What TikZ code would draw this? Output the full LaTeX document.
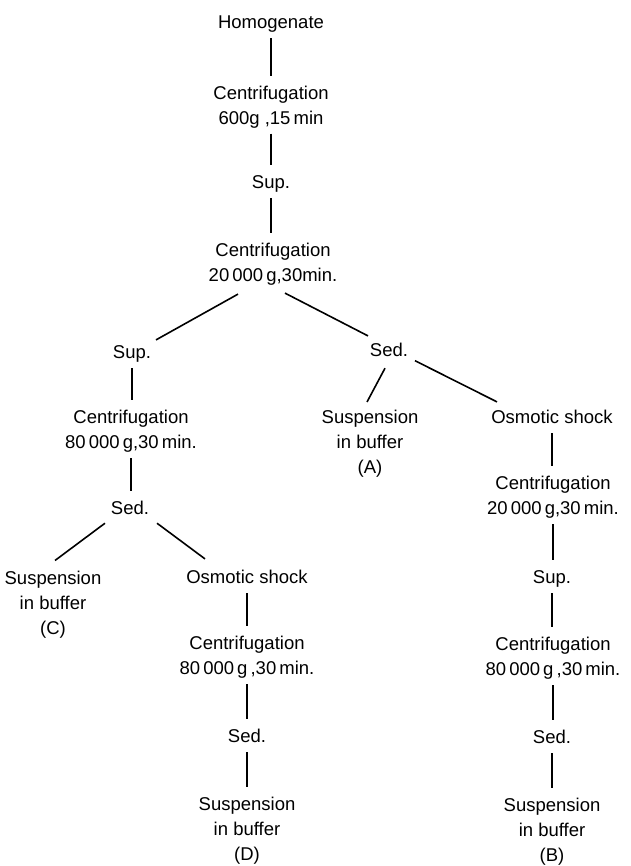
\documentclass[tikz,border=0pt]{standalone}
\usepackage{fontspec}
\setmainfont{Liberation Sans}
\usetikzlibrary{calc}
\begin{document}
\begin{tikzpicture}[x=1pt,y=-1pt,
  lbl/.style={inner sep=0pt, align=center, font=\fontsize{18.5}{25}\selectfont, yshift=-1.8pt},
  one/.style={lbl, text height=13.5pt, text depth=3.9pt},
  vl/.style={line width=1.6pt, shorten <=5.5pt, shorten >=9.5pt},
  dl/.style={line width=1.6pt}]
\useasboundingbox (0,0) rectangle (630,866);
% top column
\node[one] (hom) at (271,22) {Homogenate};
\node[lbl] (c1) at (271,105) {Centrifugation\\600g ,15\,min};
\node[one] (sup1) at (271,182) {Sup.};
\node[lbl] (c2) at (273,262.5) {Centrifugation\\20\,000\,g,30min.};
% left branch
\node[one] (supL) at (132,352) {Sup.};
\node[lbl] (c3) at (131,429.5) {Centrifugation\\80\,000\,g,30\,min.};
\node[one] (sedL) at (130,508) {Sed.};
\node[lbl] (susC) at (53,602.5) {Suspension\\in buffer\\(C)};
\node[one] (osmL) at (247,577) {Osmotic shock};
\node[lbl] (c4) at (247,655.5) {Centrifugation\\80\,000\,g\,,30\,min.};
\node[one] (sedD) at (247,736) {Sed.};
\node[lbl] (susD) at (247,829) {Suspension\\in buffer\\(D)};
% right branch
\node[one] (sedR) at (389,350) {Sed.};
\node[lbl] (susA) at (370,442) {Suspension\\in buffer\\(A)};
\node[one] (osmR) at (552,417) {Osmotic shock};
\node[lbl] (c5) at (553,495.5) {Centrifugation\\20\,000\,g,30\,min.};
\node[one] (supR) at (552,577) {Sup.};
\node[lbl] (c6) at (553,656.5) {Centrifugation\\80\,000\,g\,,30\,min.};
\node[one] (sedB) at (552,737) {Sed.};
\node[lbl] (susB) at (552,830) {Suspension\\in buffer\\(B)};
% vertical connectors
\draw[vl] (hom.south) -- (hom.south |- c1.north);
\draw[vl] (c1.south) -- (c1.south |- sup1.north);
\draw[vl] (sup1.south) -- (sup1.south |- c2.north);
\draw[vl] (supL.south) -- (supL.south |- c3.north);
\draw[vl] (c3.south) -- (c3.south |- sedL.north);
\draw[vl] (osmL.south) -- (osmL.south |- c4.north);
\draw[vl] (c4.south) -- (c4.south |- sedD.north);
\draw[vl] (sedD.south) -- (sedD.south |- susD.north);
\draw[vl] (osmR.south) -- (osmR.south |- c5.north);
\draw[vl] (c5.south) -- (c5.south |- supR.north);
\draw[vl] (supR.south) -- (supR.south |- c6.north);
\draw[vl] (c6.south) -- (c6.south |- sedB.north);
\draw[vl] (sedB.south) -- (sedB.south |- susB.north);
% diagonal connectors
\draw[dl] ($(c2.south)+(-35,8.5)$) -- ($(supL.north)+(24,-5)$);
\draw[dl] ($(c2.south)+(12,7.5)$) -- ($(sedR.north)+(-21,-7)$);
\draw[dl] ($(sedL.south)+(-25,4.5)$) -- ($(susC.north)+(2,-10)$);
\draw[dl] ($(sedL.south)+(27,4.5)$) -- ($(osmL.north)+(-42,-11)$);
\draw[dl] ($(sedR.south)+(-4,7.5)$) -- ($(susA.north)+(-3,-8)$);
\draw[dl] ($(sedR.south)+(26,0)$) -- ($(osmR.north)+(-55,-8)$);
\end{tikzpicture}
\end{document}
